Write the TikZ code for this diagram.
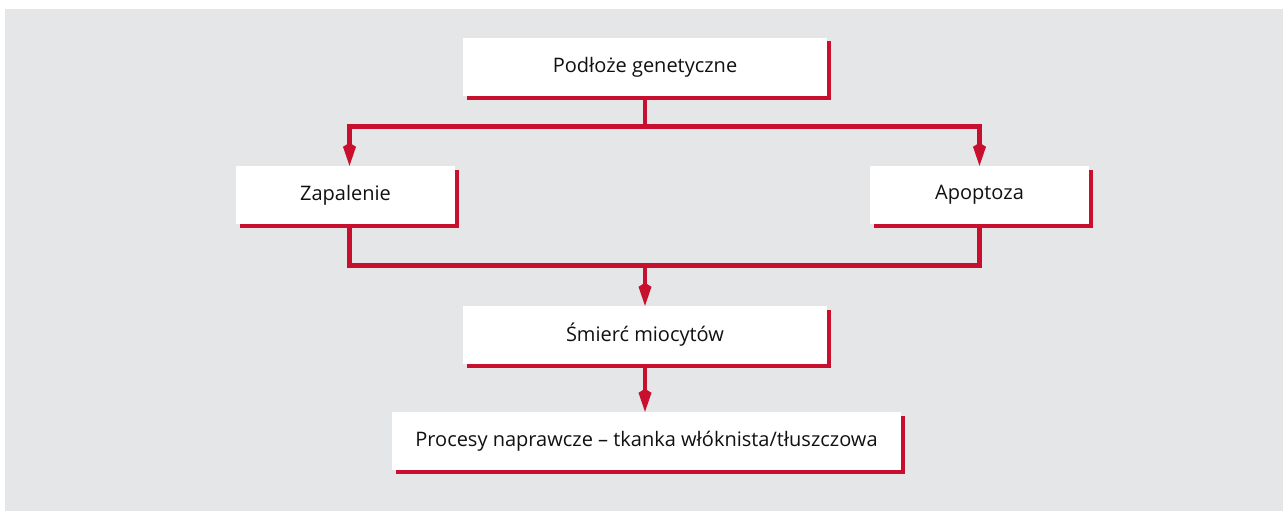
\documentclass[tikz,border=0pt]{standalone}
\usepackage{fontspec}
\setmainfont{Open Sans}
\usetikzlibrary{arrows.meta,shadows}
\definecolor{cred}{HTML}{C8102E}
\definecolor{cbg}{HTML}{E5E6E8}
\definecolor{ctext}{HTML}{111111}
\begin{document}
\begin{tikzpicture}[x=1pt,y=-1pt,
  box/.style={fill=white, draw=none, inner sep=0pt, minimum height=58pt,
    text=ctext, font=\fontsize{20}{24}\selectfont,
    general shadow={fill=cred, shadow xshift=3.5pt, shadow yshift=-3.5pt}},
  conn/.style={draw=cred, line width=4.5pt, line join=miter},
  tip/.style={-{Kite[length=23pt,width=13pt,inset=4pt]}}]
\useasboundingbox (0,0) rectangle (1283,511);
\fill[cbg] (5,9) rectangle (1283,511);
\node[box, minimum width=364pt] (top) at (645,67) {Podłoże genetyczne};
\node[box, minimum width=219pt] (zap) at (345.5,195) {Zapalenie};
\node[box, minimum width=219pt] (apo) at (979.5,195) {Apoptoza};
\node[box, minimum width=364pt] (sm) at (645,335) {Śmierć miocytów};
\node[box, minimum width=509pt] (pr) at (646.5,441) {Procesy naprawcze – tkanka włóknista/tłuszczowa};
\coordinate (hl) at (349.5,126.5);
\coordinate (hr) at (979.5,126.5);
\coordinate (bl) at (349.5,265.5);
\coordinate (br) at (979.5,265.5);
\draw[conn] (top.south) -- (top.south |- hl);
\draw[conn, {Kite[length=23pt,width=13pt,inset=4pt]}-{Kite[length=23pt,width=13pt,inset=4pt]}] (hl |- zap.north) -- (hl) -- (hr) -- (hr |- apo.north);
\draw[conn] (bl |- zap.south) -- (bl) -- (br) -- (br |- apo.south);
\draw[conn, tip] (sm.north |- bl) -- (sm.north);
\draw[conn, tip] (sm.south) -- (pr.north -| sm.south);
\end{tikzpicture}
\end{document}
